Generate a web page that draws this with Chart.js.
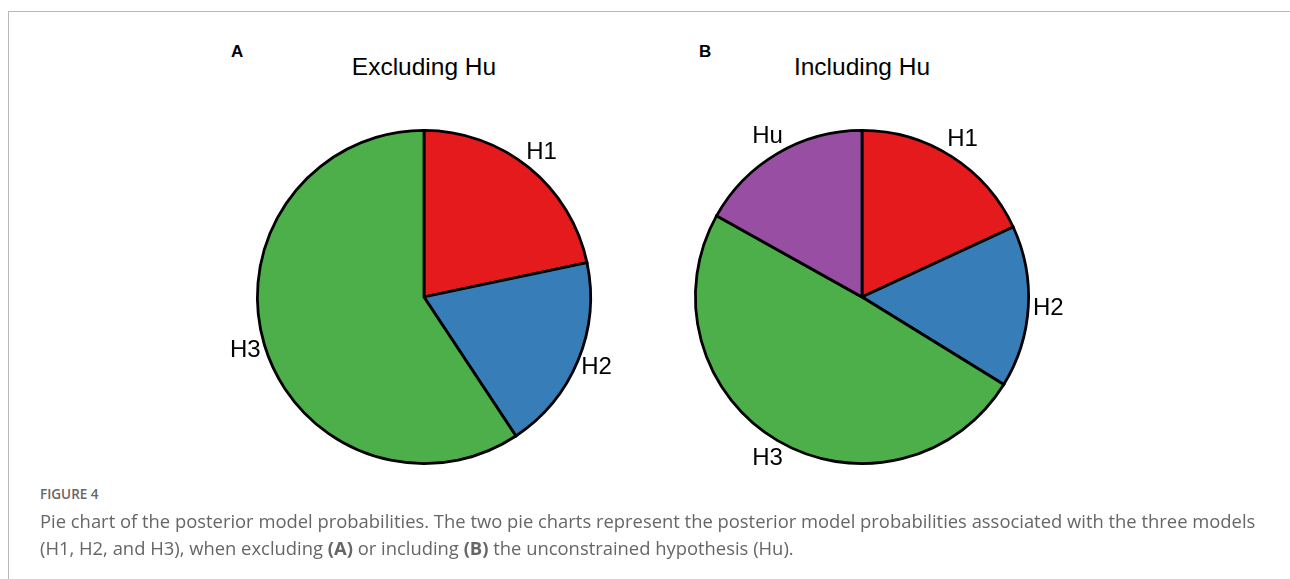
<!DOCTYPE html>
<html>
<head>
<meta charset="utf-8">
<script src="https://cdn.jsdelivr.net/npm/chart.js@4.4.1/dist/chart.umd.min.js"></script>
<style>
  body { margin: 0; background: #fff; width: 1290px; height: 579px; overflow: hidden; position: relative; font-family: "Liberation Sans", Arial, sans-serif; }
  .frame { position: absolute; left: 8px; top: 11px; right: -2px; bottom: -2px; border-top: 1.5px solid #b8b8b8; border-left: 1.5px solid #b8b8b8; }
  .panel { position: absolute; font-weight: bold; font-size: 17px; color: #000; }
  .title { position: absolute; width: 300px; text-align: center; font-size: 24.5px; color: #000; }
  .pie { position: absolute; width: 440px; height: 440px; }
  .fig { position: absolute; left: 40px; top: 485px; font-family: "Open Sans", sans-serif; font-size: 13.5px; font-weight: 600; color: #666; }
  .cap { position: absolute; left: 40px; top: 507px; font-family: "Open Sans", sans-serif; font-size: 18.4px; line-height: 27px; color: #666; white-space: nowrap; }
</style>
</head>
<body>
<div class="frame"></div>
<div class="panel" style="left:231px; top:42px;">A</div>
<div class="panel" style="left:699px; top:42px;">B</div>
<div class="title" style="left:274px; top:53px;">Excluding Hu</div>
<div class="title" style="left:712px; top:53px;">Including Hu</div>
<div class="pie" style="left:204px; top:77px;"><canvas id="pieA"></canvas></div>
<div class="pie" style="left:642px; top:77px;"><canvas id="pieB"></canvas></div>
<div class="fig">FIGURE 4</div>
<div class="cap">Pie chart of the posterior model probabilities. The two pie charts represent the posterior model probabilities associated with the three models<br>(H1, H2, and H3), when excluding <b>(A)</b> or including <b>(B)</b> the unconstrained hypothesis (Hu).</div>
<script>
const labelsA = ["H1", "H2", "H3"];
const valuesA = [0.217, 0.19, 0.593];
const colorsA = ["#E41A1C", "#377EB8", "#4DAF4A"];

const labelsB = ["H1", "H2", "H3", "Hu"];
const valuesB = [0.181, 0.157, 0.493, 0.169];
const colorsB = ["#E41A1C", "#377EB8", "#4DAF4A", "#984EA3"];

// names outside each slice, at its middle angle
const outsideLabels = {
  id: "outsideLabels",
  afterDatasetsDraw(chart) {
    const { ctx } = chart;
    const meta = chart.getDatasetMeta(0);
    ctx.save();
    ctx.font = "24px 'Liberation Sans', Arial, sans-serif";
    ctx.fillStyle = "#000";
    ctx.textAlign = "center";
    ctx.textBaseline = "middle";
    meta.data.forEach((arc, i) => {
      const { x, y, startAngle, endAngle, outerRadius } = arc.getProps(["x", "y", "startAngle", "endAngle", "outerRadius"], true);
      const mid = (startAngle + endAngle) / 2;
      const r = outerRadius * 1.12;
      ctx.fillText(chart.data.labels[i], x + Math.cos(mid) * r, y + Math.sin(mid) * r);
    });
    ctx.restore();
  },
};

function makePie(id, labels, values, colors) {
  new Chart(document.getElementById(id), {
    type: "pie",
    data: {
      labels: labels,
      datasets: [{
        data: values,
        backgroundColor: colors,
        borderColor: "#000",
        borderWidth: 2.8,
        borderJoinStyle: "miter",
        hoverOffset: 0,
      }],
    },
    options: {
      responsive: true,
      maintainAspectRatio: false,
      animation: false,
      layout: { padding: 52 },
      plugins: { legend: { display: false }, tooltip: { enabled: false } },
    },
    plugins: [outsideLabels],
  });
}

makePie("pieA", labelsA, valuesA, colorsA);
makePie("pieB", labelsB, valuesB, colorsB);
</script>
</body>
</html>
